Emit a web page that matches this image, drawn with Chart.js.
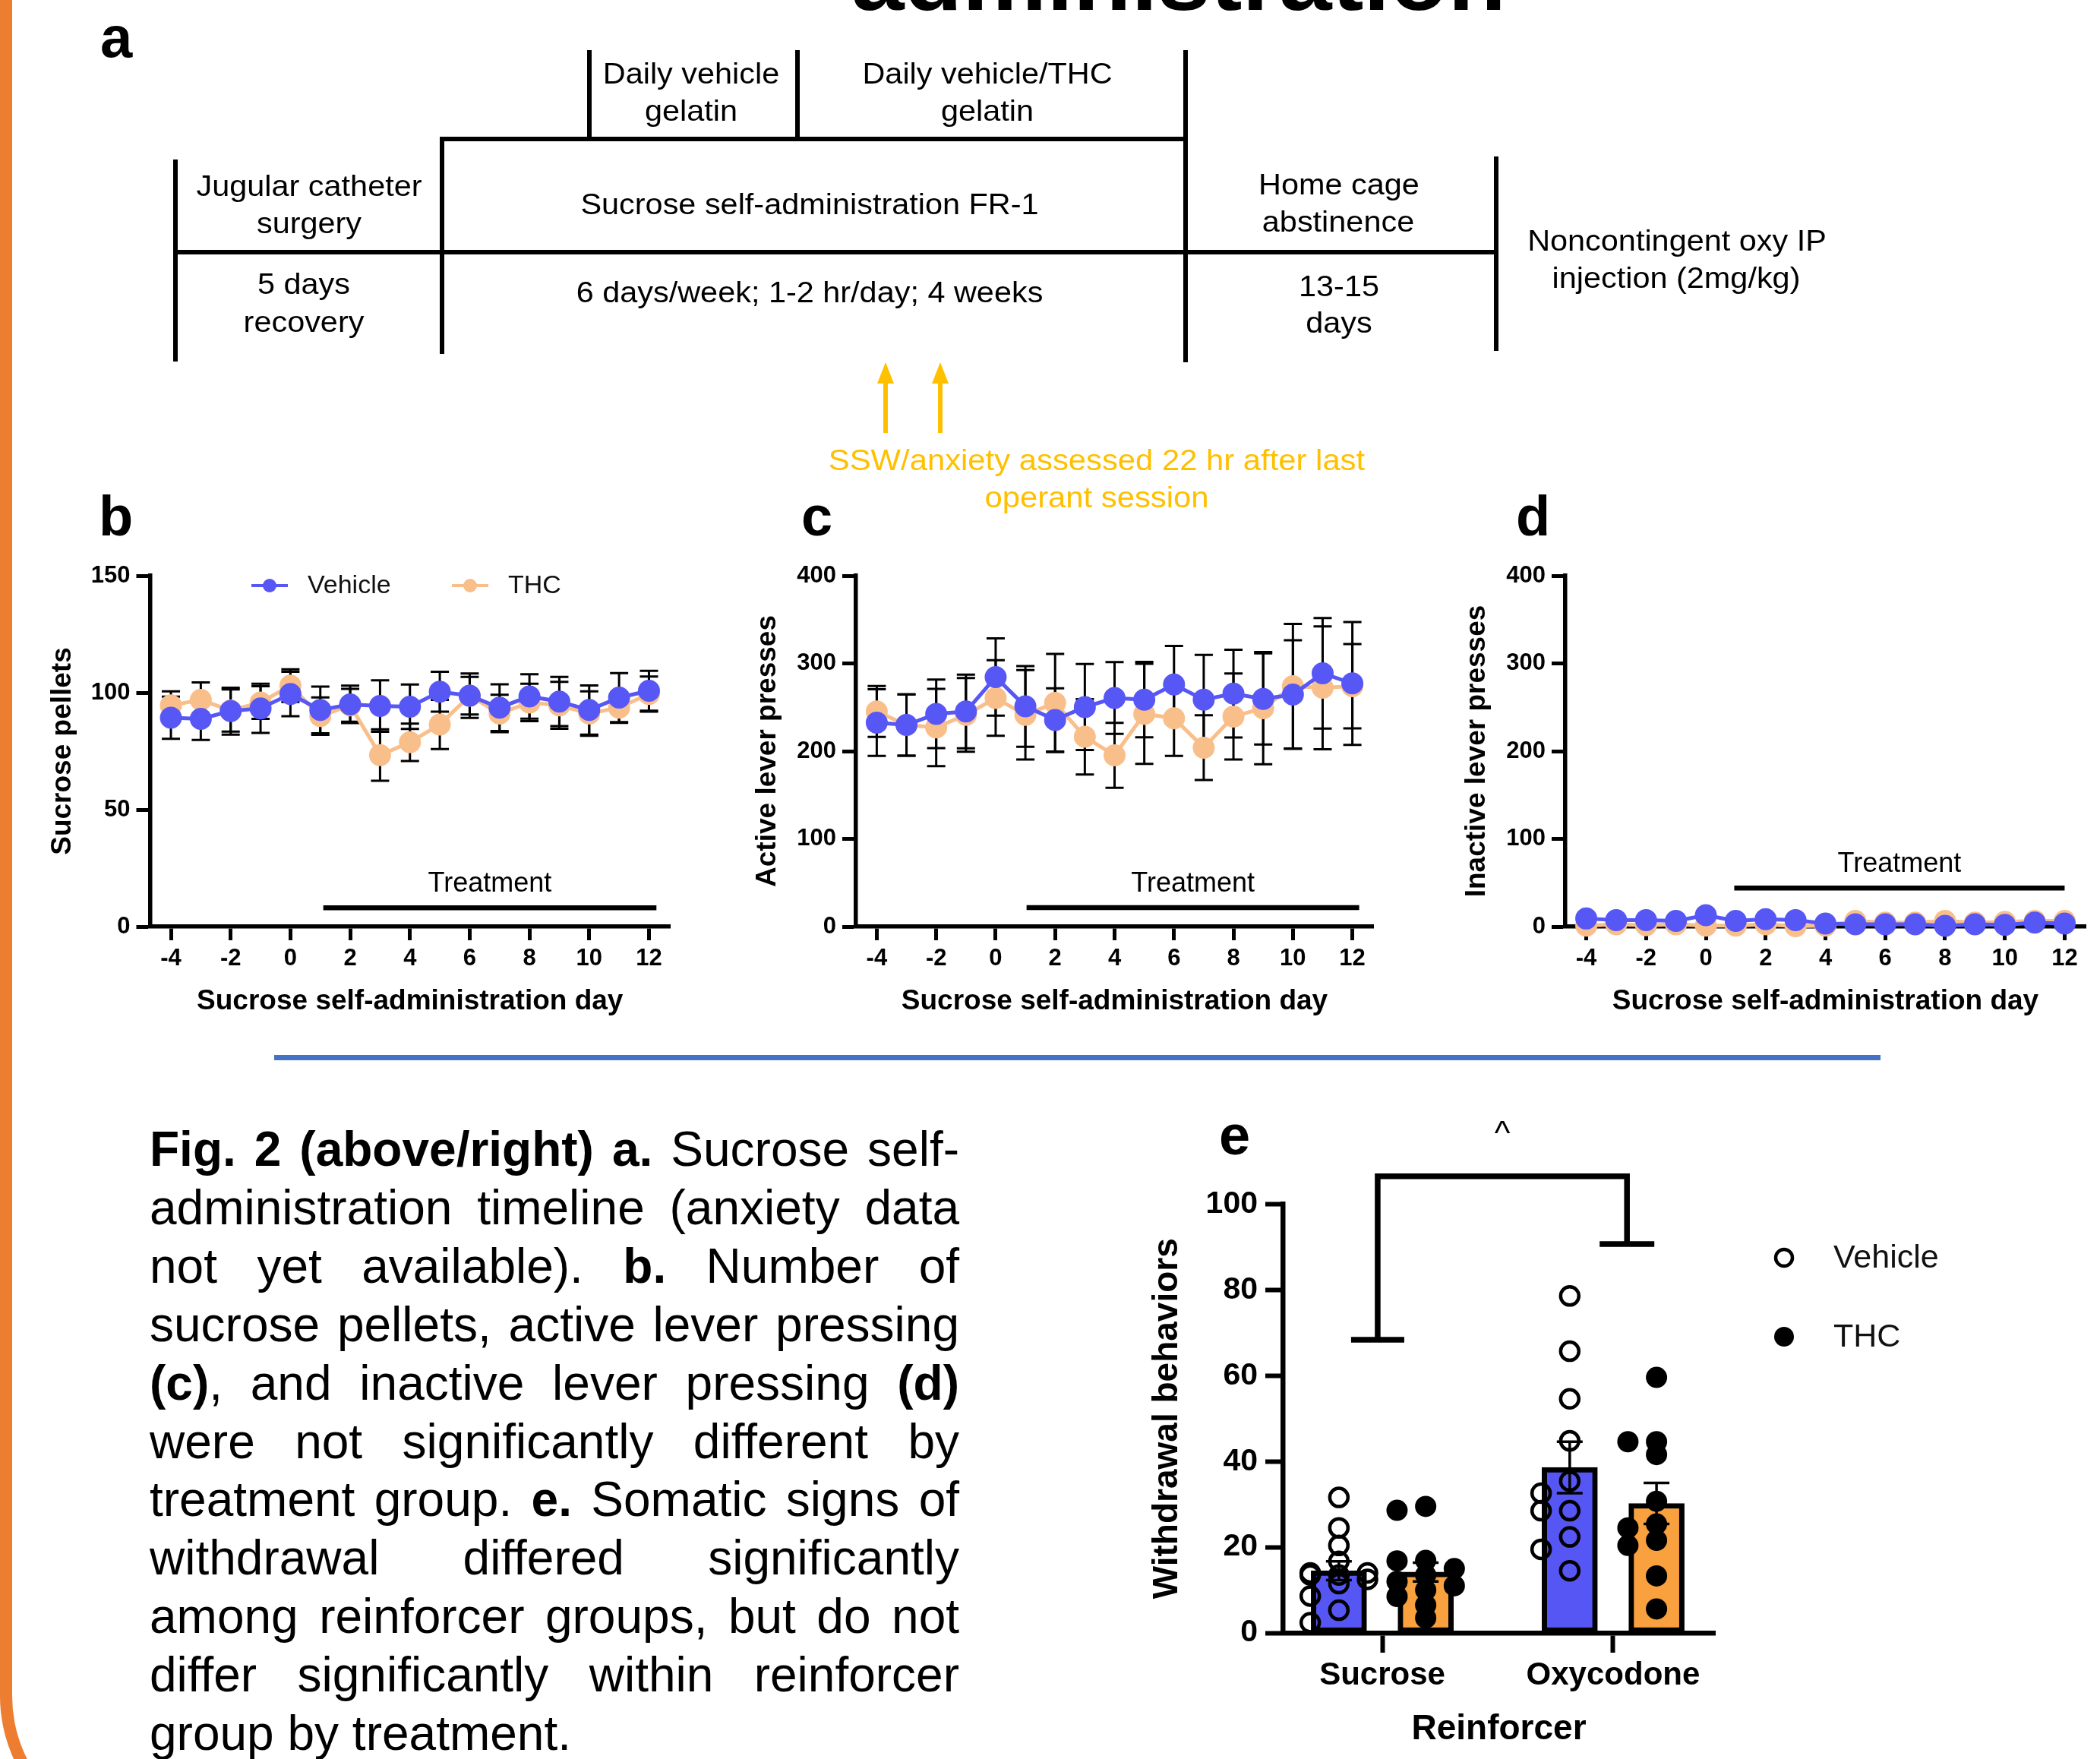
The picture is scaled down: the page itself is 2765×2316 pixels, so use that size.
<!DOCTYPE html>
<html>
<head>
<meta charset="utf-8">
<title>Fig. 2 – sucrose self-administration</title>
<script src="https://cdn.jsdelivr.net/npm/chart.js@4.4.1/dist/chart.umd.min.js"></script>
<style>
  html, body { margin: 0; padding: 0; background: #fff; }
  body { width: 2765px; height: 2316px; position: relative; overflow: hidden;
         font-family: "Liberation Sans", Arial, sans-serif; color: #000; }
  canvas { position: absolute; }
  #frame { position: absolute; left: 0; top: -100px; width: 1400px; height: 2533px; box-sizing: border-box;
           border-left: 16px solid #ED7D31; border-bottom: 16px solid #ED7D31; border-bottom-left-radius: 200px; }
  #rule { position: absolute; left: 361px; top: 1389px; width: 2115px; height: 7px; background: #4472C4; }
  .cap { position: absolute; left: 197px; width: 1066px; font-size: 64px; line-height: 76.9px; height: 76.9px;
         text-align: justify; text-align-last: justify; }
  .cap.last { text-align: left; text-align-last: left; }
</style>
</head>
<body>
<div id="frame"></div>
<canvas id="page" width="2765" height="2316" style="left:0;top:0"></canvas>
<canvas id="chartB" width="880" height="690" style="left:40px;top:690px"></canvas>
<canvas id="chartC" width="880" height="690" style="left:970px;top:690px"></canvas>
<canvas id="chartD" width="865" height="690" style="left:1900px;top:690px"></canvas>
<canvas id="chartE" width="1285" height="896" style="left:1480px;top:1420px"></canvas>
<div id="rule"></div>
<div id="caption"></div>

<script>
// ---- data ----
const days = [-4, -3, -2, -1, 0, 1, 2, 3, 4, 5, 6, 7, 8, 9, 10, 11, 12];
const dayTicks = [-4, -2, 0, 2, 4, 6, 8, 10, 12];

// b. sucrose pellets
const pelletsVehicle    = [89.3, 88.8, 92.1, 93.3, 99.4, 92.6, 95.0, 94.3, 94.0, 100.4, 98.7, 93.6, 98.4, 96.2, 92.6, 97.9, 100.8];
const pelletsVehicleSem = [9, 9, 10, 10.5, 9.5, 10, 8, 11, 9.5, 8.5, 9.5, 10, 9.5, 10.5, 10.5, 10.5, 8.5];
const pelletsThc        = [94.6, 96.9, 92.4, 95.8, 103.0, 90.0, 94.6, 73.3, 78.8, 86.4, 98.7, 91.1, 95.8, 94.6, 91.1, 93.6, 99.4];
const pelletsThcSem     = [6, 7.5, 9, 7, 7, 8, 7, 11, 8, 10.5, 8, 8, 8, 10, 9.5, 6.5, 7.5];
const pelletTicks = [0, 50, 100, 150];

// c. active lever presses
const activeVehicle    = [232.5, 229.8, 242.5, 245.2, 284.5, 251.0, 235.6, 250.3, 260.6, 258.7, 276.0, 258.7, 265.6, 259.5, 264.5, 288.8, 277.2];
const activeVehicleSem = [38, 35, 39, 42, 44, 46, 36, 49, 41, 43, 44, 51, 50, 52, 62, 63, 70];
const activeThc        = [245.2, 229.8, 227.0, 241.4, 260.6, 241.4, 254.9, 216.4, 195.2, 242.5, 237.5, 204.0, 239.5, 249.0, 274.0, 272.2, 274.0];
const activeThcSem     = [29, 35, 44, 42, 43, 51, 56, 43, 37, 57, 43, 37, 49, 64, 71, 70, 48];

// d. inactive lever presses
const inactiveVehicle    = [9.2, 7.3, 7.3, 6.5, 13.0, 6.5, 8.5, 7.3, 3.5, 2.7, 2.7, 2.7, 0.8, 2.7, 2.0, 4.6, 3.5];
const inactiveVehicleSem = [2, 2, 2, 2, 3, 2, 2, 2, 1.5, 1.5, 1.5, 1.5, 1, 1.5, 1, 1.5, 1.5];
const inactiveThc        = [1.0, 2.7, 1.5, 2.7, 1.0, 1.0, 2.7, 0.5, 1.0, 6.5, 4.6, 4.6, 6.5, 4.6, 5.4, 6.5, 6.5];
const inactiveThcSem     = [1, 1.5, 1, 1.5, 1, 1, 1.5, 0.5, 1, 2, 1.5, 1.5, 2, 1.5, 2, 2, 2];
const leverTicks = [0, 100, 200, 300, 400];

// e. withdrawal behaviours
const reinforcers = ['Sucrose', 'Oxycodone'];
const withdrawalVehicle    = [14.5, 38.6];
const withdrawalVehicleSem = [2.2, 6.0];
const withdrawalThc        = [14.2, 30.2];
const withdrawalThcSem     = [2.2, 4.8];
const sucroseVehiclePts = [31.6, 24.5, 20.4, 16.7, 14.0, 14.0, 13.5, 13.5, 12.5, 11.5, 8.6, 5.3, 2.4];
const sucroseThcPts     = [29.5, 28.6, 16.9, 16.8, 15.0, 13.5, 12.0, 11.0, 10.0, 8.5, 6.5, 3.5];
const oxyVehiclePts     = [78.6, 65.7, 54.6, 44.8, 35.4, 32.6, 28.5, 28.5, 22.4, 19.5, 14.5];
const oxyThcPts         = [59.6, 44.6, 44.6, 41.6, 30.7, 25.4, 24.5, 21.6, 20.4, 13.3, 5.6];
const withdrawalTicks = [0, 20, 40, 60, 80, 100];

// ---- styling ----
const FONT = '"Liberation Sans", Arial, sans-serif';
const BLUE = '#5757F5';
const PEACH = '#F9BF8B';
const BAR_BLUE = '#5656F5';
const BAR_ORANGE = '#F9A03F';
const YELLOW = '#FFC000';

Chart.defaults.font.family = FONT;
Chart.defaults.color = '#000';
Chart.defaults.animation = false;
Chart.defaults.responsive = false;
Chart.defaults.plugins.legend.display = false;
Chart.defaults.plugins.tooltip.enabled = false;

// error bars behind the line series
const errorBars = {
  id: 'errorBars',
  beforeDatasetsDraw(chart) {
    const { ctx, scales: { y } } = chart;
    ctx.save();
    ctx.strokeStyle = '#000';
    ctx.lineWidth = 3;
    chart.data.datasets.forEach((ds, i) => {
      if (!ds.errors) return;
      chart.getDatasetMeta(i).data.forEach((pt, j) => {
        const v = ds.data[j].y, e = ds.errors[j];
        const top = y.getPixelForValue(v + e), bot = y.getPixelForValue(Math.max(0, v - e));
        ctx.beginPath();
        ctx.moveTo(pt.x, top); ctx.lineTo(pt.x, bot);
        ctx.moveTo(pt.x - 12, top); ctx.lineTo(pt.x + 12, top);
        ctx.moveTo(pt.x - 12, bot); ctx.lineTo(pt.x + 12, bot);
        ctx.stroke();
      });
    });
    ctx.restore();
  }
};

// "Treatment" bar under the lines
const treatmentBar = {
  id: 'treatment',
  afterDatasetsDraw(chart, args, o) {
    const { ctx, scales: { x, y } } = chart;
    const x0 = x.getPixelForValue(o.from), x1 = x.getPixelForValue(o.to), yy = y.getPixelForValue(o.level);
    ctx.save();
    ctx.strokeStyle = '#000';
    ctx.lineWidth = 6.5;
    ctx.beginPath(); ctx.moveTo(x0, yy); ctx.lineTo(x1, yy); ctx.stroke();
    ctx.font = '36px ' + FONT;
    ctx.fillStyle = '#000';
    ctx.textAlign = 'center';
    ctx.textBaseline = 'middle';
    ctx.fillText('Treatment', (x0 + x1) / 2, yy - 31);
    ctx.restore();
  }
};

// small legends drawn next to the plot area
const seriesLegend = {
  id: 'seriesLegend',
  afterDraw(chart, args, o) {
    if (!o.items) return;
    const { ctx, chartArea } = chart;
    ctx.save();
    ctx.font = o.fontSize + 'px ' + FONT;
    ctx.textBaseline = 'middle';
    ctx.textAlign = 'left';
    o.items.forEach(it => {
      const ds = chart.data.datasets[it.dataset];
      const cx = (o.fromRight ? chartArea.right : chartArea.left) + it.dx;
      const cy = chartArea.top + it.dy;
      if (o.icon === 'lineDot') {
        ctx.strokeStyle = ds.borderColor; ctx.lineWidth = 4;
        ctx.beginPath(); ctx.moveTo(cx - 24, cy); ctx.lineTo(cx + 24, cy); ctx.stroke();
        ctx.fillStyle = ds.borderColor;
        ctx.beginPath(); ctx.arc(cx, cy, 9, 0, Math.PI * 2); ctx.fill();
      } else {
        ctx.beginPath(); ctx.arc(cx, cy, ds.pointRadius - 1, 0, Math.PI * 2);
        if (ds.borderWidth) { ctx.strokeStyle = ds.borderColor; ctx.lineWidth = ds.borderWidth; ctx.stroke(); }
        else { ctx.fillStyle = ds.backgroundColor; ctx.fill(); }
      }
      ctx.fillStyle = '#111';
      ctx.fillText(ds.label, cx + o.textGap, cy + 1);
    });
    ctx.restore();
  }
};

function axisStyle(tickLength, width) {
  return {
    grid: { drawOnChartArea: false, offset: false, tickLength: tickLength, tickWidth: width - 0.5, tickColor: '#000' },
    border: { color: '#000', width: width }
  };
}

function dayChart(id, o) {
  return new Chart(document.getElementById(id), {
    type: 'line',
    data: {
      datasets: [
        { label: 'Vehicle', data: days.map((d, i) => ({ x: d, y: o.vehicle[i] })), errors: o.vehicleSem,
          borderColor: BLUE, backgroundColor: BLUE, pointRadius: 12, borderWidth: 5, clip: false },
        { label: 'THC', data: days.map((d, i) => ({ x: d, y: o.thc[i] })), errors: o.thcSem,
          borderColor: PEACH, backgroundColor: PEACH, pointRadius: 12, borderWidth: 5, clip: false }
      ]
    },
    options: {
      layout: { padding: { left: 0, top: 68, right: o.padRight, bottom: 0 } },
      plugins: { treatment: o.treatment, seriesLegend: o.legend || {} },
      scales: {
        x: Object.assign({
          type: 'linear', min: -4.7, max: 12.7,
          afterBuildTicks: s => { s.ticks = dayTicks.map(v => ({ value: v })); },
          afterFit: s => { s.height = 160; },
          ticks: { font: { size: 31, weight: 'bold' }, padding: 6, maxRotation: 0, autoSkip: false },
          title: { display: true, text: 'Sucrose self-administration day', font: { size: 37, weight: 'bold' },
                   padding: { top: 0, bottom: 39 } }
        }, axisStyle(18, 5.5)),
        y: Object.assign({
          type: 'linear', min: 0, max: o.yTicks[o.yTicks.length - 1],
          afterBuildTicks: s => { s.ticks = o.yTicks.map(v => ({ value: v })); },
          afterFit: s => { s.width = o.yWidth; },
          ticks: { font: { size: 31, weight: 'bold' }, padding: 8 },
          title: { display: true, text: o.yTitle, font: { size: 37, weight: 'bold' },
                   padding: { top: o.yTitlePad, bottom: 0 } }
        }, axisStyle(18, 5.5))
      }
    },
    plugins: [errorBars, treatmentBar, seriesLegend]
  });
}

dayChart('chartB', {
  vehicle: pelletsVehicle, vehicleSem: pelletsVehicleSem, thc: pelletsThc, thcSem: pelletsThcSem,
  yTicks: pelletTicks, yTitle: 'Sucrose pellets', yWidth: 157.5, yTitlePad: 21, padRight: 38,
  treatment: { from: 1.1, to: 12.25, level: 8 },
  legend: { icon: 'lineDot', fontSize: 34, textGap: 50, items: [{ dataset: 0, dx: 157.5, dy: 13 }, { dataset: 1, dx: 421.5, dy: 13 }] }
});
dayChart('chartC', {
  vehicle: activeVehicle, vehicleSem: activeVehicleSem, thc: activeThc, thcSem: activeThcSem,
  yTicks: leverTicks, yTitle: 'Active lever presses', yWidth: 157, yTitlePad: 19, padRight: 42,
  treatment: { from: 1.04, to: 12.23, level: 21.6 }
});
dayChart('chartD', {
  vehicle: inactiveVehicle, vehicleSem: inactiveVehicleSem, thc: inactiveThc, thcSem: inactiveThcSem,
  yTicks: leverTicks, yTitle: 'Inactive lever presses', yWidth: 161, yTitlePad: 23, padRight: 19,
  treatment: { from: 0.95, to: 12.0, level: 44 }
});

// ---- e: bars + individual animals ----
const BAR_SHIFT = 0.188;
// spread overlapping animals sideways, like a scatter dot plot
function swarm(values, center) {
  const STEP = 0.062, GAP = 3.0;
  const placed = [];
  [...values].sort((a, b) => b - a).forEach(v => {
    let best = center, bestScore = -1;
    for (let k = 0; k <= 6; k++) {
      const x = center + (k % 2 ? -1 : 1) * Math.ceil(k / 2) * STEP;
      const near = placed.filter(p => Math.abs(p.x - x) < STEP * 1.4);
      const d = near.length ? Math.min(...near.map(p => Math.abs(p.y - v))) : Infinity;
      if (d >= GAP) { best = x; break; }
      if (d > bestScore) { bestScore = d; best = x; }
    }
    placed.push({ x: best, y: v });
  });
  return placed;
}

const barErrors = {
  id: 'barErrors',
  afterDatasetDraw(chart, args) {
    const ds = chart.data.datasets[args.index];
    if (!ds.errors) return;
    const { ctx, scales: { y } } = chart;
    ctx.save();
    ctx.strokeStyle = '#000';
    ctx.lineWidth = 3.5;
    args.meta.data.forEach((bar, j) => {
      const v = ds.data[j].y, e = ds.errors[j];
      const top = y.getPixelForValue(v + e), bot = y.getPixelForValue(v - e);
      ctx.beginPath();
      ctx.moveTo(bar.x, top); ctx.lineTo(bar.x, bot);
      ctx.moveTo(bar.x - 17, top); ctx.lineTo(bar.x + 17, top);
      ctx.moveTo(bar.x - 17, bot); ctx.lineTo(bar.x + 17, bot);
      ctx.stroke();
    });
    ctx.restore();
  }
};

const bracket = {
  id: 'bracket',
  afterDraw(chart, args, o) {
    const { ctx, scales: { x, y } } = chart;
    const xl = x.getPixelForValue(o.left), xr = x.getPixelForValue(o.right);
    const yt = y.getPixelForValue(o.top), yl = y.getPixelForValue(o.leftEnd), yr = y.getPixelForValue(o.rightEnd);
    ctx.save();
    ctx.strokeStyle = '#000';
    ctx.lineWidth = 7.5;
    ctx.lineJoin = 'miter';
    ctx.beginPath();
    ctx.moveTo(xl, yl); ctx.lineTo(xl, yt); ctx.lineTo(xr, yt); ctx.lineTo(xr, yr);
    ctx.moveTo(xl - 35, yl); ctx.lineTo(xl + 35, yl);
    ctx.moveTo(xr - 36, yr); ctx.lineTo(xr + 36, yr);
    ctx.stroke();
    ctx.font = '44px ' + FONT;
    ctx.fillStyle = '#000';
    ctx.textAlign = 'center';
    ctx.fillText(o.label, (xl + xr) / 2, yt - 42);
    ctx.restore();
  }
};

new Chart(document.getElementById('chartE'), {
  type: 'bar',
  data: {
    datasets: [
      { type: 'scatter', label: 'Vehicle',
        data: [...swarm(sucroseVehiclePts, 1 - BAR_SHIFT), ...swarm(oxyVehiclePts, 2 - BAR_SHIFT)],
        pointRadius: 12, borderWidth: 4.5, borderColor: '#000', backgroundColor: 'rgba(0,0,0,0)', order: 1, clip: false },
      { type: 'scatter', label: 'THC',
        data: [...swarm(sucroseThcPts, 1 + BAR_SHIFT), ...swarm(oxyThcPts, 2 + BAR_SHIFT)],
        pointRadius: 14, borderWidth: 0, borderColor: '#000', backgroundColor: '#000', order: 1, clip: false },
      { type: 'bar', label: 'Vehicle',
        data: reinforcers.map((r, i) => ({ x: i + 1 - BAR_SHIFT, y: withdrawalVehicle[i] })), errors: withdrawalVehicleSem,
        backgroundColor: BAR_BLUE, borderColor: '#000', borderWidth: 7, borderSkipped: false,
        barThickness: 73, grouped: false, order: 2 },
      { type: 'bar', label: 'THC',
        data: reinforcers.map((r, i) => ({ x: i + 1 + BAR_SHIFT, y: withdrawalThc[i] })), errors: withdrawalThcSem,
        backgroundColor: BAR_ORANGE, borderColor: '#000', borderWidth: 7, borderSkipped: false,
        barThickness: 73, grouped: false, order: 2 }
    ]
  },
  options: {
    layout: { padding: { left: 0, top: 165.5, right: 507, bottom: 0 } },
    plugins: {
      bracket: { left: 0.98, right: 2.06, top: 106.5, leftEnd: 68.4, rightEnd: 90.7, label: '^' },
      seriesLegend: { icon: 'dot', fromRight: true, fontSize: 43, textGap: 65,
                      items: [{ dataset: 0, dx: 91, dy: 70.5 }, { dataset: 1, dx: 91, dy: 174.5 }] }
    },
    scales: {
      x: Object.assign({
        type: 'linear', offset: false, min: 0.569, max: 2.441,
        afterBuildTicks: s => { s.ticks = reinforcers.map((r, i) => ({ value: i + 1 })); },
        afterFit: s => { s.height = 166; },
        ticks: { font: { size: 42, weight: 'bold' }, padding: 5, maxRotation: 0, autoSkip: false,
                 callback: v => reinforcers[Math.round(v) - 1] },
        title: { display: true, text: 'Reinforcer', font: { size: 46, weight: 'bold' }, padding: { top: 0, bottom: 11 } }
      }, axisStyle(26, 6.5)),
      y: Object.assign({
        type: 'linear', min: 0, max: 100,
        afterBuildTicks: s => { s.ticks = withdrawalTicks.map(v => ({ value: v })); },
        afterFit: s => { s.width = 209; },
        ticks: { font: { size: 41, weight: 'bold' }, padding: 10 },
        title: { display: true, text: 'Withdrawal behaviors', font: { size: 46, weight: 'bold' }, padding: { top: 30, bottom: 0 } }
      }, axisStyle(23, 6.5))
    }
  },
  plugins: [barErrors, bracket, seriesLegend]
});

// ---- page text, panel letters and the timeline (panel a) ----
const g = document.getElementById('page').getContext('2d');
function label(str, x, y, size, opt) {
  opt = opt || {};
  g.save();
  g.font = (opt.bold ? 'bold ' : '') + size + 'px ' + FONT;
  g.fillStyle = opt.color || '#000';
  g.textAlign = opt.align || 'center';
  g.textBaseline = 'alphabetic';
  g.translate(x, y);
  g.scale(opt.sx || 1, 1);
  g.fillText(str, 0, 0);
  g.restore();
}
function seg(x0, y0, x1, y1) {
  g.beginPath(); g.moveTo(x0, y0); g.lineTo(x1, y1); g.stroke();
}

label('administration', 1552, 13, 118, { bold: true, sx: 1.06 });

label('a', 132, 75, 76, { bold: true, align: 'left' });
label('b', 130, 705, 74, { bold: true, align: 'left' });
label('c', 1055, 705, 74, { bold: true, align: 'left' });
label('d', 1996, 705, 74, { bold: true, align: 'left' });
label('e', 1605, 1520, 74, { bold: true, align: 'left' });

g.strokeStyle = '#000';
g.lineWidth = 6;
seg(231, 210, 231, 476);
seg(228, 332, 1970, 332);
seg(582, 180, 582, 466);
seg(579, 183, 1564, 183);
seg(776, 66, 776, 186);
seg(1050, 66, 1050, 186);
seg(1561, 66, 1561, 477);
seg(1970, 206, 1970, 462);

const TL = 38, SX = 1.09;
label('Daily vehicle', 910, 110, TL, { sx: SX });
label('gelatin', 910, 159, TL, { sx: SX });
label('Daily vehicle/THC', 1300, 110, TL, { sx: SX });
label('gelatin', 1300, 159, TL, { sx: SX });
label('Jugular catheter', 407, 258, TL, { sx: SX });
label('surgery', 407, 307, TL, { sx: SX });
label('Sucrose self-administration FR-1', 1066, 282, TL, { sx: SX });
label('5 days', 400, 387, TL, { sx: SX });
label('recovery', 400, 437, TL, { sx: SX });
label('6 days/week; 1-2 hr/day; 4 weeks', 1066, 398, TL, { sx: SX });
label('Home cage', 1763, 256, TL, { sx: SX });
label('abstinence', 1762, 305, TL, { sx: SX });
label('13-15', 1763, 390, TL, { sx: SX });
label('days', 1763, 438, TL, { sx: SX });
label('Noncontingent oxy IP', 2208, 330, TL, { sx: SX });
label('injection (2mg/kg)', 2207, 379, TL, { sx: SX });

function arrow(x, yTip, yEnd) {
  g.fillStyle = YELLOW; g.strokeStyle = YELLOW; g.lineWidth = 6;
  seg(x, yEnd, x, yTip + 20);
  g.beginPath(); g.moveTo(x, yTip); g.lineTo(x - 11, yTip + 28); g.lineTo(x + 11, yTip + 28); g.closePath(); g.fill();
}
arrow(1166, 477, 570);
arrow(1238, 477, 570);
label('SSW/anxiety assessed 22 hr after last', 1444, 619, TL, { sx: 1.1, color: YELLOW });
label('operant session', 1444, 668, TL, { sx: 1.1, color: YELLOW });

// ---- caption ----
const captionLines = [
  '<b>Fig. 2 (above/right) a.</b> Sucrose self-',
  'administration timeline (anxiety data',
  'not yet available). <b>b.</b> Number of',
  'sucrose pellets, active lever pressing',
  '<b>(c)</b>, and inactive lever pressing <b>(d)</b>',
  'were not significantly different by',
  'treatment group. <b>e.</b> Somatic signs of',
  'withdrawal differed significantly',
  'among reinforcer groups, but do not',
  'differ significantly within reinforcer',
  'group by treatment.'
];
const cap = document.getElementById('caption');
captionLines.forEach((html, i) => {
  const div = document.createElement('div');
  div.className = 'cap' + (i === captionLines.length - 1 ? ' last' : '');
  div.style.top = (1475 + i * 76.9) + 'px';
  div.innerHTML = html;
  cap.appendChild(div);
});
</script>
</body>
</html>
